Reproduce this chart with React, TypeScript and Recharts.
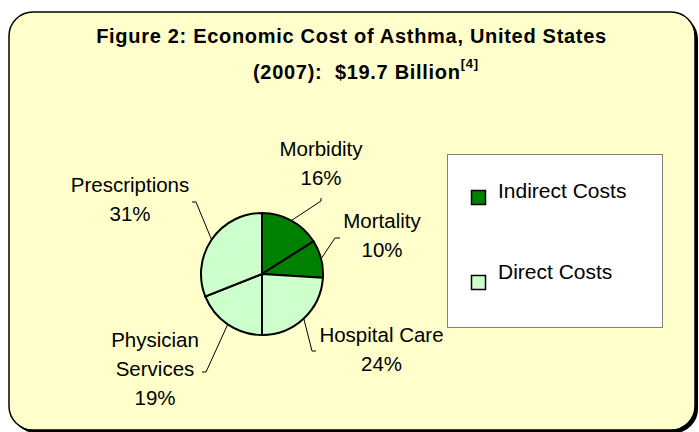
import { PieChart, Pie, Cell, Legend } from "recharts";

// asthma cost breakdown, 2007
const categories = ["Morbidity", "Mortality", "Hospital Care", "Physician Services", "Prescriptions"];
const shares = [16, 10, 24, 19, 31];
const costType = ["Indirect", "Indirect", "Direct", "Direct", "Direct"];
const labelLines = [["Morbidity"], ["Mortality"], ["Hospital Care"], ["Physician", "Services"], ["Prescriptions"]];
const legendItems = ["Indirect Costs", "Direct Costs"];

const colors: Record<string, string> = { Indirect: "#008000", Direct: "#CCFFCC" };
const FONT = "'Liberation Sans', Arial, sans-serif";

// label placement relative to the pie centre
const labelSpots = [
  { tx: 59, ty: -118, elbow: [59, -73], tick: [59, -76] },
  { tx: 120, ty: -46, elbow: [73, -36], tick: [78, -36] },
  { tx: 119.5, ty: 68, elbow: [50, 77], tick: [54, 77] },
  { tx: -107, ty: 73, elbow: [-56, 98], tick: [-60, 98] },
  { tx: -132, ty: -82, elbow: [-66, -72], tick: [-70, -72] },
];

const data = categories.map((c, i) => ({ name: c, value: shares[i], type: costType[i] }));

const RAD = Math.PI / 180;

function renderLabel(props: any) {
  const { cx, cy, midAngle, outerRadius, index, percent } = props;
  const spot = labelSpots[index];
  const sx = cx + outerRadius * Math.cos(-midAngle * RAD);
  const sy = cy + outerRadius * Math.sin(-midAngle * RAD);
  const lines = [...labelLines[index], `${Math.round(percent * 100)}%`];
  return (
    <g>
      <polyline
        points={`${sx},${sy} ${cx + spot.elbow[0]},${cy + spot.elbow[1]} ${cx + spot.tick[0]},${cy + spot.tick[1]}`}
        fill="none"
        stroke="#000"
        strokeWidth={1}
      />
      {lines.map((t, k) => (
        <text
          key={k}
          x={cx + spot.tx}
          y={cy + spot.ty + k * 29}
          textAnchor="middle"
          fontFamily={FONT}
          fontSize={20.5}
          fill="#000"
        >
          {t}
        </text>
      ))}
    </g>
  );
}

function LegendBox() {
  return (
    <svg width={216} height={174}>
      <rect x={0.5} y={0.5} width={215} height={173} fill="#fff" stroke="#808080" strokeWidth={1} />
      {legendItems.map((t, i) => (
        <g key={t}>
          <rect
            x={24.5}
            y={36.5 + i * 85}
            width={14}
            height={14}
            fill={i === 0 ? colors.Indirect : colors.Direct}
            stroke="#000"
            strokeWidth={1.5}
          />
          <text x={51} y={44 + i * 80.5} fontFamily={FONT} fontSize={21} fill="#000">
            {t}
          </text>
        </g>
      ))}
    </svg>
  );
}

export default function App() {
  return (
    <div style={{ position: "absolute", left: 0, top: 0, width: 699, height: 432, overflow: "hidden" }}>
      <svg width={699} height={432} style={{ position: "absolute", left: 0, top: 0 }}>
        <rect x={12} y={15} width={686} height={418} rx={24} fill="#000" />
        <rect x={9} y={12} width={686} height={418} rx={24} fill="#FFFFCC" stroke="#000" strokeWidth={1.5} />
        <text x={351.5} y={43} textAnchor="middle" fontFamily={FONT} fontWeight="bold" fontSize={20} letterSpacing={0.7}>
          Figure 2: Economic Cost of Asthma, United States
        </text>
        <text x={253} y={79} fontFamily={FONT} fontWeight="bold" fontSize={20} letterSpacing={0.7} style={{ whiteSpace: "pre" }}>
          {"(2007):  $19.7 Billion"}
          <tspan fontSize={13} dy={-11}>[4]</tspan>
        </text>
      </svg>
      <div style={{ position: "absolute", left: 0, top: 0 }}>
        <PieChart width={699} height={432} margin={{ top: 0, right: 0, bottom: 0, left: 0 }}>
          <Pie
            data={data}
            dataKey="value"
            nameKey="name"
            cx={262}
            cy={274}
            outerRadius={61}
            startAngle={90}
            endAngle={-270}
            stroke="#000"
            strokeWidth={2}
            label={renderLabel}
            labelLine={false}
            isAnimationActive={false}
          >
            {data.map((d) => (
              <Cell key={d.name} fill={colors[d.type]} />
            ))}
          </Pie>
          <Legend content={<LegendBox />} wrapperStyle={{ left: 447, top: 154, width: 216, height: 174 }} />
        </PieChart>
      </div>
    </div>
  );
}
